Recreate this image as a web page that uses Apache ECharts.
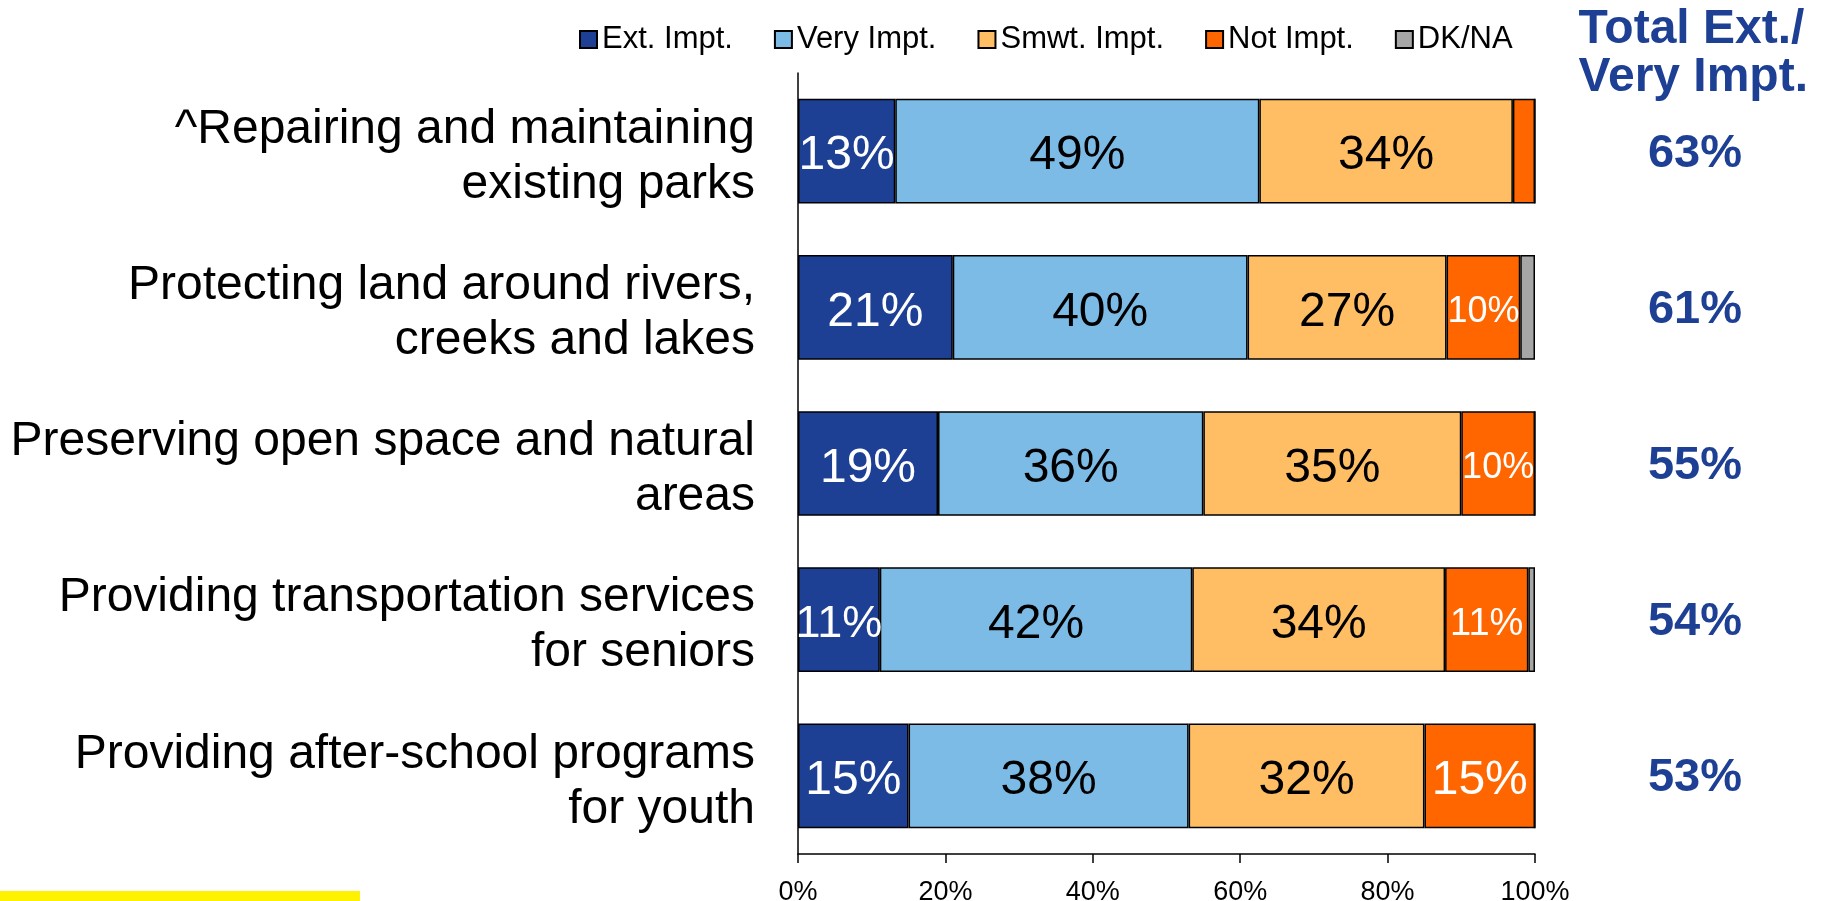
<!DOCTYPE html>
<html>
<head>
<meta charset="utf-8">
<script src="https://cdn.jsdelivr.net/npm/echarts@6/dist/echarts.min.js"></script>
<style>
html,body{margin:0;padding:0;background:#ffffff;}
#chart{width:1824px;height:901px;}
</style>
</head>
<body>
<div id="chart"></div>
<script>
// ---- data ----
const categories = [
  '^Repairing and maintaining\nexisting parks',
  'Protecting land around rivers,\ncreeks and lakes',
  'Preserving open space and natural\nareas',
  'Providing transportation services\nfor seniors',
  'Providing after-school programs\nfor youth'
];
const seriesNames = ['Ext. Impt.', 'Very Impt.', 'Smwt. Impt.', 'Not Impt.', 'DK/NA'];
const extImpt  = [13.2, 21, 19, 11.1, 15];
const veryImpt = [49.4, 40, 36, 42.4, 38];
const smwtImpt = [34.4, 27, 35, 34.3, 32];
const notImpt  = [3.0, 10, 10, 11.3, 15];
const dkNa     = [0, 2, 0, 0.9, 0];
const totalExtVery = [63, 61, 55, 54, 53];
const totalHeader = 'Total Ext./\nVery Impt.';
const xTickLabels = ['0%', '20%', '40%', '60%', '80%', '100%'];

// ---- styles ----
const FONT = '"Liberation Sans", Arial, sans-serif';
const colors = ['#1D3F94', '#7BBBE6', '#FFBE63', '#FF6600', '#A6A6A6'];
const labelColors = ['#ffffff', '#000000', '#000000', '#ffffff', '#000000'];
const values = [extImpt, veryImpt, smwtImpt, notImpt, dkNa];

function labelSize(v, si) {
  if (v >= 12) return 48;
  if (si === 0) return 45;
  return v > 10.5 ? 38 : 36;
}

const series = seriesNames.map((name, si) => ({
  name: name,
  type: 'bar',
  stack: 'total',
  yAxisIndex: 0,
  barCategoryGap: '33%',
  itemStyle: { color: colors[si], borderColor: '#000', borderWidth: 1.5 },
  label: {
    show: true,
    position: 'inside',
    offset: [0, 5],
    color: labelColors[si],
    fontFamily: FONT,
    fontSize: 48,
    formatter: p => (p.value >= 5 ? Math.round(p.value) + '%' : '')
  },
  data: values[si].map(v => ({ value: v, label: { fontSize: labelSize(v, si) } }))
}));

const chart = echarts.init(document.getElementById('chart'), null, { renderer: 'canvas' });
chart.setOption({
  backgroundColor: '#ffffff',
  animation: false,
  textStyle: { fontFamily: FONT },
  legend: {
    data: seriesNames,
    left: 574,
    top: 19,
    itemWidth: 17,
    itemHeight: 17,
    itemGap: 41,
    icon: 'rect',
    textStyle: { fontFamily: FONT, fontSize: 31, color: '#000' }
  },
  grid: { left: 798, right: 289, top: 73, bottom: 47, containLabel: false, outerBoundsMode: 'none' },
  xAxis: {
    type: 'value',
    min: 0, max: 100, interval: 20,
    axisLine: { show: true, lineStyle: { color: '#000', width: 1.5 } },
    axisTick: { show: true, length: 9, lineStyle: { color: '#000', width: 1.5 } },
    splitLine: { show: false },
    axisLabel: {
      margin: 25,
      fontFamily: FONT, fontSize: 27, color: '#000',
      formatter: v => xTickLabels[Math.round(v / 20)]
    }
  },
  yAxis: [
    {
      type: 'category',
      data: categories,
      inverse: true,
      axisLine: { show: true, lineStyle: { color: '#000', width: 1.5 } },
      axisTick: { show: false },
      axisLabel: {
        margin: 43,
        formatter: v => '{s| }\n' + v.split('\n').map(l => '{t|' + l + '}').join('\n'),
        rich: {
          s: { fontSize: 1, lineHeight: 12 },
          t: { fontFamily: FONT, fontSize: 48, lineHeight: 55, color: '#000' }
        }
      }
    },
    {
      type: 'category',
      data: totalExtVery.map(v => v + '%'),
      inverse: true,
      position: 'right',
      axisLine: { show: false },
      axisTick: { show: false },
      axisLabel: {
        margin: 160,
        align: 'center',
        formatter: v => '{s| }\n{t|' + v + '}',
        rich: {
          s: { fontSize: 1, lineHeight: 5 },
          t: { fontFamily: FONT, fontSize: 47, lineHeight: 50, fontWeight: 'bold', color: '#1D3F94' }
        }
      }
    }
  ],
  graphic: [
    {
      type: 'text',
      right: 16,
      top: 6,
      style: {
        text: totalHeader,
        fontFamily: FONT, fontSize: 48, fontWeight: 'bold',
        lineHeight: 48,
        fill: '#1D3F94',
        align: 'right'
      }
    },
    {
      type: 'rect',
      left: 0,
      top: 891,
      shape: { width: 360, height: 10 },
      style: { fill: '#FFF200' }
    }
  ],
  series: series
});
</script>
</body>
</html>
